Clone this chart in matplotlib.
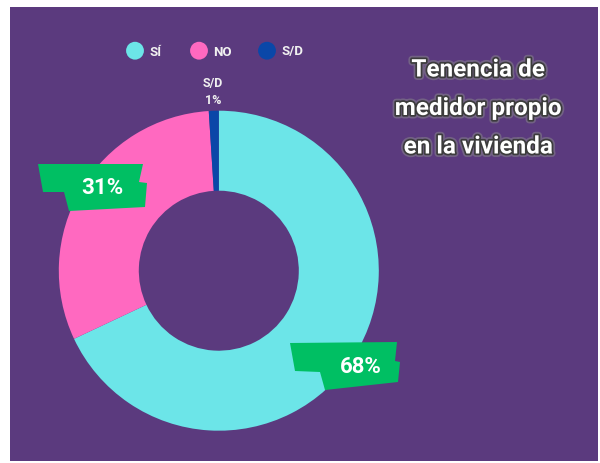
import matplotlib.pyplot as plt
import matplotlib.patheffects as pe
from matplotlib.patches import Rectangle, Polygon

# data
categories = ['SÍ', 'NO', 'S/D']
values = [68, 31, 1]
colors = ['#6ce5e8', '#ff69c0', '#0a47a8']
title_lines = ['Tenencia de', 'medidor propio', 'en la vivienda']

W, H = 600, 464
purple = '#5b3a7e'
green = '#00bf63'

fig = plt.figure(figsize=(W / 100, H / 100), dpi=100)
fig.patch.set_facecolor('white')
fig.patches.append(Rectangle((10 / W, 1 - 462 / H), 588 / W, 454 / H,
                             transform=fig.transFigure, facecolor=purple,
                             edgecolor='none', zorder=-5))

# donut, placed in its own square axes (pixel center 218.8, 271.7 radius 160)
cx, cy, r = 218.8, 271.7, 160
pie_ax = fig.add_axes([(cx - r) / W, 1 - (cy + r) / H, 2 * r / W, 2 * r / H])
pie_ax.pie(values, colors=colors, startangle=90, counterclock=False,
           radius=1, wedgeprops=dict(width=0.5, edgecolor='none'))
pie_ax.set_xlim(-1, 1)
pie_ax.set_ylim(-1, 1)
pie_ax.axis('off')

# overlay in pixel coordinates for legend, labels and title
ax = fig.add_axes([0, 0, 1, 1])
ax.set_xlim(0, W)
ax.set_ylim(H, 0)
ax.axis('off')
ax.patch.set_alpha(0)

font = 'Roboto'

# legend
leg_x = [135, 199, 267]
for x, lab, c in zip(leg_x, categories, colors):
    ax.scatter([x], [51.7], s=165, color=c, edgecolors='none', zorder=3)
    ax.text(x + 14, 52, lab, color='#f0f0f0', fontsize=9.5, fontweight='bold',
            family=font, ha='left', va='center')

# small label for S/D
ax.text(213, 92, f'{categories[2]}\n{values[2]}%', color='#f0f0f0', fontsize=9,
        fontweight='bold', family=font, ha='center', va='center', linespacing=1.4)

# green banners
banners = [
    (1, (102, 188), [(-64, -23), (41, -23), (37, -5), (45, -4), (43, 20),
                     (-33, 24), (-38, 5), (-59, 5)]),
    (0, (361, 367), [(-71, -23), (36, -24), (34, -5), (39, -4), (37, 16),
                     (-36, 24), (-41, 6), (-66, 5)]),
]
for idx, (bx, by), shape in banners:
    pts = [(bx + dx, by + dy) for dx, dy in shape]
    ax.add_patch(Polygon(pts, closed=True, facecolor=green, edgecolor='none', zorder=4))
    ax.text(bx, by, f'{values[idx]}%', color='white', fontsize=16, fontweight='bold',
            family=font, ha='center', va='center', zorder=5)

# title with soft grey glow
glow = [pe.withStroke(linewidth=5, foreground='#8a8a8a', alpha=0.5),
        pe.withStroke(linewidth=2.5, foreground='#3c3c3c')]
for i, line in enumerate(title_lines):
    ax.text(478, 71 + i * 38.5, line, color='white', fontsize=17.5, fontweight='bold',
            family=font, ha='center', va='center', path_effects=glow)

fig.savefig('out.png', dpi=100, facecolor=fig.get_facecolor())
